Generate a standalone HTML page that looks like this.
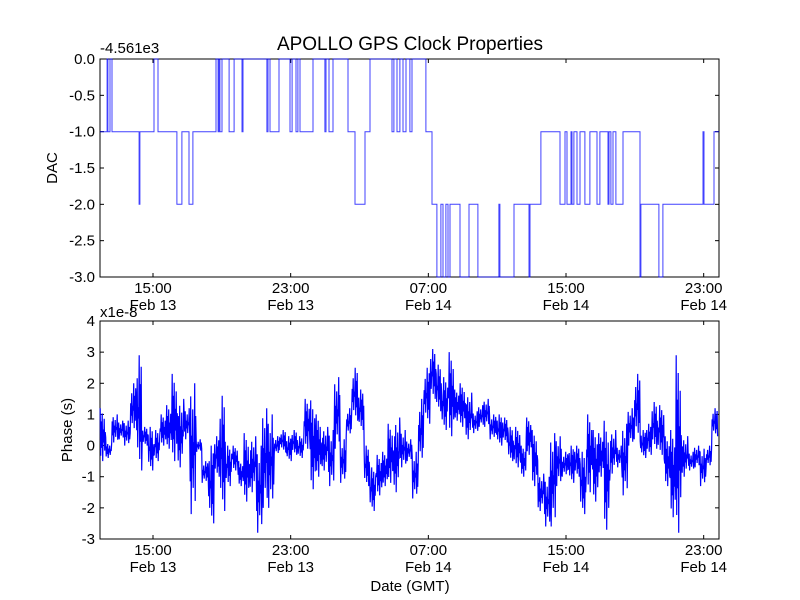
<!DOCTYPE html>
<html><head><meta charset="utf-8">
<style>
body{margin:0;background:#fff;}
svg{display:block;font-family:"Liberation Sans","DejaVu Sans",sans-serif;}
</style></head>
<body>
<svg id="fig" width="800" height="600" viewBox="0 0 800 600">
<rect width="800" height="600" fill="#fff"/>
<text x="410" y="50" font-size="19" text-anchor="middle">APOLLO GPS Clock Properties</text>
<text x="100" y="53" font-size="15">-4.561e3</text>
<text x="100" y="317" font-size="15">x1e-8</text>
<text transform="translate(57,168) rotate(-90)" font-size="15" text-anchor="middle">DAC</text>
<text transform="translate(72,430) rotate(-90)" font-size="15" text-anchor="middle">Phase (s)</text>
<text x="410" y="591" font-size="15" text-anchor="middle">Date (GMT)</text>
<g id="topPanel"></g>
<g id="botPanel"></g>
</svg>
<script>
// Shared time axis: hours since start of record (~11:55 GMT Feb 13)
const xTickHours = [3.08, 11.08, 19.08, 27.08, 35.08];
const xTickTimes = ["15:00","23:00","07:00","15:00","23:00"];
const xTickDates = ["Feb 13","Feb 13","Feb 14","Feb 14","Feb 14"];
const xMaxHour = 35.97;

// DAC step series (change times in hours, values after change, offset -4.561e3)
const dacTimes = [0,0.41,0.46,0.58,0.70,2.27,2.32,3.14,3.37,4.47,4.76,5.17,5.40,6.74,6.86,6.91,6.97,7.09,7.50,7.79,8.25,8.31,9.70,9.76,9.88,10.40,11.04,11.16,11.39,11.50,11.62,12.38,13.07,13.13,13.31,13.54,14.41,14.82,15.40,15.69,16.97,17.08,17.26,17.43,17.61,17.78,18.01,18.13,18.94,19.29,19.58,19.81,19.93,20.10,20.22,20.34,20.92,21.44,21.96,23.18,23.24,24.06,24.93,24.99,25.62,26.73,27.02,27.14,27.37,27.43,27.54,27.72,27.89,28.18,28.47,28.88,29.05,29.52,29.58,29.69,29.81,29.98,30.39,31.38,31.43,32.48,32.71,35.04,35.10,35.68];
const dacValues = [-1,0,-1,0,-1, -2,-1,0,-1,-2, -1,-2,-1,0,-1, 0,-1,0,-1,0, -1,0,-1,0,-1, 0,-1,0,-1,0, -1,0,-1,0,-1, 0,-1,-2,-1,0, -1,0,-1,0,-1, 0,-1,0,-1,-2, -3,-2,-3,-2,-3, -2,-3,-2,-3,-2, -3,-2,-3,-2,-1, -2,-1,-2,-1,-2, -1,-2,-1,-2,-1, -2,-1,-2,-1,-2, -1,-2,-1,-3,-2, -3,-2,-1,-2,-1];
const dacTicks = [0,-0.5,-1,-1.5,-2,-2.5,-3];
const dacTickLabels = ["0.0","-0.5","-1.0","-1.5","-2.0","-2.5","-3.0"];

// Phase (x1e-8 s): per-bin high / low envelope, bins of 0.3486 h
const phaseBinHours = 0.3486;
const phaseHi = [1.2,0.1,1.0,0.8,0.8,2.0,2.9,0.6,0.6,0.5,1.0,1.3,2.3,1.5,1.2,2.0,0.2,-0.5,0.0,0.3,1.6,0.0,0.0,-0.5,0.4,0.3,0.0,1.2,1.0,0.3,0.5,0.3,0.5,0.3,1.5,1.45,1.0,0.6,0.5,2.2,0.2,1.2,2.5,1.8,0.0,-0.7,-0.3,-0.2,0.7,0.9,0.5,0.2,-0.2,1.5,2.5,3.1,2.6,2.2,3.0,1.8,2.0,1.7,1.1,1.3,1.5,1.0,1.0,0.9,0.6,0.6,0.0,0.9,0.5,-0.9,-1.0,0.4,0.3,-0.2,0.0,0.0,-0.2,1.0,0.5,0.4,0.8,0.5,0.0,0.7,1.2,2.3,0.5,0.7,1.4,1.3,0.3,0.5,2.9,0.3,-0.2,0.0,-0.1,0.0,1.2];
const phaseLo = [-0.5,-0.4,0.1,0.2,0.0,0.4,-0.8,0.0,-0.8,-0.5,0.0,-0.1,-0.5,-0.7,0.2,-2.2,-0.2,-1.2,-2.5,-1.0,-2.1,-1.3,-0.8,-1.3,-1.8,-1.5,-2.8,-2.0,-2.0,-0.3,-0.2,-0.5,-0.3,-0.4,-0.1,-1.4,-1.0,-0.8,-1.3,-0.1,-1.2,0.3,0.8,0.5,-1.3,-2.1,-1.6,-1.3,-1.2,-1.5,-0.7,-0.5,-1.7,-0.6,0.7,1.5,1.1,0.5,0.3,0.8,0.6,0.2,0.4,0.6,0.6,0.2,0.0,0.1,-0.5,-0.7,-1.0,-0.3,-1.3,-2.1,-2.6,-2.6,-1.3,-1.0,-1.2,-1.0,-2.2,-1.5,-1.8,-1.0,-2.7,-0.9,-0.7,-1.6,0.0,0.2,-0.4,-0.3,-0.1,-0.3,-1.3,-2.3,-2.8,-1.0,-0.8,-0.7,-1.3,-0.7,0.3];
const phaseTicks = [4,3,2,1,0,-1,-2,-3];
const phaseTickLabels = ["4","3","2","1","0","-1","-2","-3"];

const NS="http://www.w3.org/2000/svg";
function mk(tag, attrs, parent){const e=document.createElementNS(NS,tag);for(const k in attrs)e.setAttribute(k,attrs[k]);parent.appendChild(e);return e;}
const PL=100,PR=719;
function xs(h){return PL+(h/xMaxHour)*(PR-PL);}

function panel(g, y0, y1, ymin, ymax, ticks, labels, prefix){
  const ys=v=>y0+(ymax-v)/(ymax-ymin)*(y1-y0);
  const fr=mk('rect',{x:PL,y:y0,width:PR-PL,height:y1-y0,fill:'none',stroke:'#000','stroke-width':1},g);
  
  
  ticks.forEach((v,i)=>{
    const y=ys(v);
    mk('line',{x1:PL,x2:PL+4,y1:y,y2:y,stroke:'#000'},g);
    mk('line',{x1:PR-4,x2:PR,y1:y,y2:y,stroke:'#000'},g);
    const t=mk('text',{x:PL-5,y:y+5,'font-size':15,'text-anchor':'end'},g);
    t.textContent=labels[i];
    
    
  });
  xTickHours.forEach((h,i)=>{
    const x=xs(h);
    mk('line',{x1:x,x2:x,y1:y0,y2:y0+4,stroke:'#000'},g);
    mk('line',{x1:x,x2:x,y1:y1-4,y2:y1,stroke:'#000'},g);
    const t=mk('text',{x:x,y:y1+16,'font-size':15,'text-anchor':'middle'},g);
    t.textContent=xTickTimes[i];
    
    
    const d=mk('text',{x:x,y:y1+33,'font-size':15,'text-anchor':'middle'},g);
    d.textContent=xTickDates[i];
    
    
  });
  return ys;
}

const topG=document.getElementById('topPanel');
const ysT=panel(topG,59,277,-3,0,dacTicks,dacTickLabels,'dac');
let dPath='';
const nD=Math.min(dacTimes.length,dacValues.length);
for(let i=0;i<nD;i++){
  const x=xs(dacTimes[i]), y=ysT(dacValues[i]);
  dPath += (i===0?'M':'L')+x.toFixed(1)+','+y.toFixed(1);
  const nh = i<nD-1?dacTimes[i+1]:xMaxHour;
  dPath += 'L'+xs(nh).toFixed(1)+','+y.toFixed(1);
}
const dl=mk('path',{d:dPath,fill:'none',stroke:'#0000ff','stroke-width':1,'stroke-opacity':0.75},topG);



const botG=document.getElementById('botPanel');
const ysB=panel(botG,321,539,-3,4,phaseTicks,phaseTickLabels,'phase');
// render-only oscillation pattern inside each bin (fractions of the hi-lo band)
const wig=[1,0.1,0.75,0.25,0.9,0.0,0.6,0.35,0.8,0.2,0.55,0.45];
let pPath='';
const nP=Math.min(phaseHi.length,phaseLo.length);
for(let i=0;i<nP;i++){
  const h0=i*phaseBinHours, lo=phaseLo[i], hi=phaseHi[i];
  for(let k=0;k<wig.length;k++){
    const x=xs(h0+phaseBinHours*(k+0.5)/wig.length);
    const y=ysB(lo+wig[(k+i)%wig.length]*(hi-lo));
    pPath += ((i===0&&k===0)?'M':'L')+x.toFixed(1)+','+y.toFixed(1);
  }
}
const pl=mk('path',{d:pPath,fill:'none',stroke:'#0000ff','stroke-width':1.2},botG);


</script>
</body></html>
